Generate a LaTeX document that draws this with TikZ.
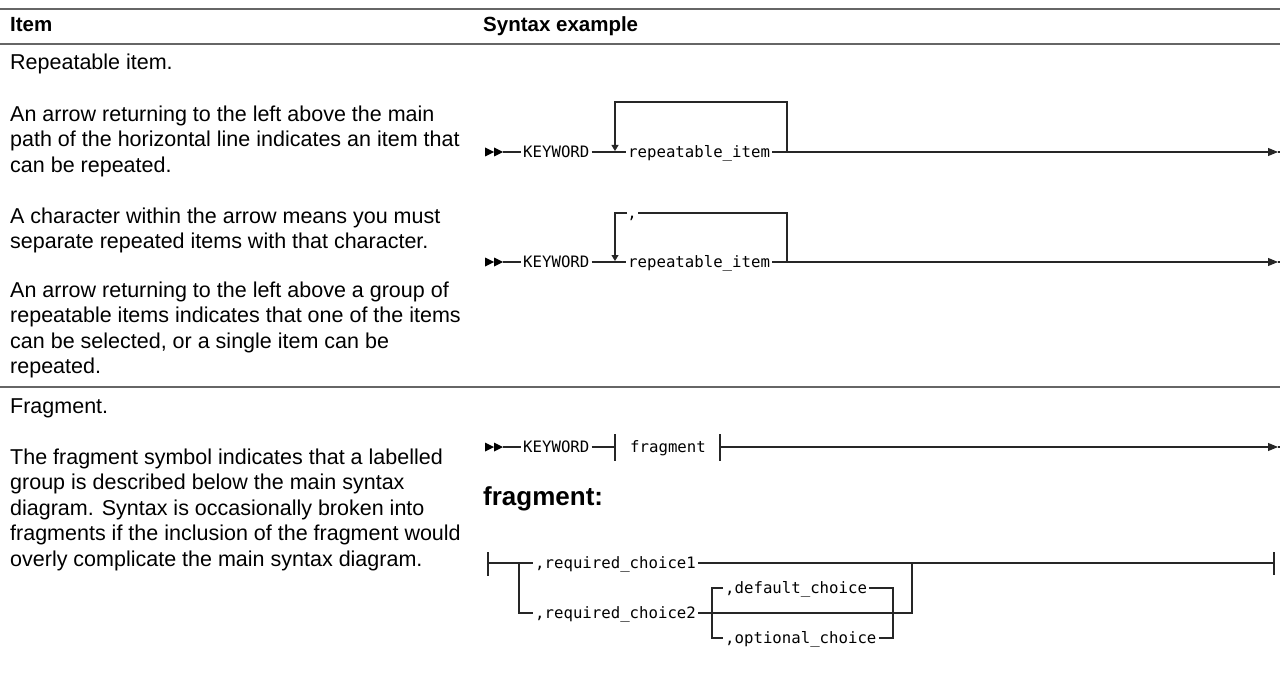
\documentclass[tikz,border=0pt]{standalone}
\usepackage{fontspec}
\setmainfont{Liberation Sans}
\newfontfamily\railfont{DejaVu Sans Mono}
\usetikzlibrary{arrows.meta}

\tikzset{
  txt/.style={anchor=base west,inner sep=0pt,font=\fontsize{21.5}{25.5}\selectfont},
  para/.style={anchor=north west,inner sep=0pt,align=left,font=\fontsize{21.5}{25.5}\selectfont},
  hdr/.style={anchor=base west,inner sep=0pt,font=\fontsize{20.5}{24}\selectfont\bfseries},
  kw/.style={anchor=west,inner ysep=0pt,inner xsep=2pt,text height=11pt,text depth=0pt,
    font=\railfont\fontsize{15.7}{18}\selectfont},
  rail/.style={line width=1.1pt,black!85},
  stub/.style={line width=2.2pt,black!85},
  hrule/.style={line width=1.6pt,black!60},
  endtip/.style={-{Triangle[width=8pt,length=10pt]}},
  looptip/.style={-{Triangle[width=7pt,length=6pt]}},
  begmark/.pic={\fill (0,-4.5) -- (9,0) -- (0,4.5) -- cycle;
                \fill (9,-4.5) -- (18,0) -- (9,4.5) -- cycle;},
}

\begin{document}
\begin{tikzpicture}[x=1pt,y=-1pt]
    \useasboundingbox (0,0) rectangle (1280,674);
    % 表格线
    \draw[hrule] (0,9) -- (1280,9);
    \draw[hrule] (0,44) -- (1280,44);
    \draw[hrule] (0,387) -- (1280,387);
    % 表头
    \node[hdr] (hitem) at (10,32) {Item};
    \node[hdr] (hsyn) at (483,32) {Syntax example};
    % 左列文字
    \node[txt] (rep) at (10,70) {Repeatable item.};
    \node[para] (p1) at (10,105.6) {An arrow returning to the left above the main\\path of the horizontal line indicates an item that\\can be repeated.};
    \node[para] (p2) at (10,207.6) {A character within the arrow means you must\\separate repeated items with that character.};
    \node[para] (p3) at (10,281.6) {An arrow returning to the left above a group of\\repeatable items indicates that one of the items\\can be selected, or a single item can be\\repeated.};
    \node[txt] (frag) at (10,413) {Fragment.};
    \node[para] (p4) at (10,448.6) {The fragment symbol indicates that a labelled\\group is described below the main syntax\\diagram. Syntax is occasionally broken into\\fragments if the inclusion of the fragment would\\overly complicate the main syntax diagram.};

    % 图一：可重复项
    \pic at (485,152) {begmark};
    \coordinate (b1) at (503,152);
    \node[kw] (kw1) at (521,152) {KEYWORD};
    \node[kw] (ri1) at (626,152) {repeatable\_item};
    \coordinate (j1) at (787,152);
    \coordinate (t1) at (615,102);
    \coordinate (a1) at (615,151);
    \coordinate (e1) at (1278,152);
    \draw[rail] (b1) -- (kw1);
    \draw[rail] (kw1) -- (ri1);
    \draw[rail] (ri1) -- (j1);
    \draw[rail,looptip] (j1) |- (t1) -- (a1);
    \draw[stub] (j1) ++(3,0) -- ++(20,0);
    \draw[rail,endtip] (j1) -- (e1);
    \draw[rail] (e1) -- ++(2,0);

    % 图二：带分隔符
    \pic at (485,262) {begmark};
    \coordinate (b2) at (503,262);
    \node[kw] (kw2) at (521,262) {KEYWORD};
    \node[kw] (ri2) at (626,262) {repeatable\_item};
    \node[anchor=base,inner sep=0pt,font=\railfont\fontsize{15.7}{18}\selectfont] (cm2) at (632,218) {,};
    \coordinate (j2) at (787,262);
    \coordinate (g2r) at (638,213);
    \coordinate (g2l) at (627,213);
    \coordinate (t2) at (615,213);
    \coordinate (a2) at (615,261);
    \coordinate (e2) at (1278,262);
    \draw[rail] (b2) -- (kw2);
    \draw[rail] (kw2) -- (ri2);
    \draw[rail] (ri2) -- (j2);
    \draw[rail] (j2) |- (g2r);
    \draw[rail,looptip] (g2l) -- (t2) -- (a2);
    \draw[stub] (j2) ++(3,0) -- ++(14,0);
    \draw[rail,endtip] (j2) -- (e2);
    \draw[rail] (e2) -- ++(2,0);

    % 图三：片段引用
    \pic at (485,447) {begmark};
    \coordinate (b3) at (503,447);
    \node[kw] (kw3) at (521,447) {KEYWORD};
    \coordinate (fl3) at (615,447);
    \node[kw] (fr3) at (628,447) {fragment};
    \coordinate (fr3r) at (720,447);
    \coordinate (e3) at (1278,447);
    \draw[rail] (b3) -- (kw3);
    \draw[rail] (kw3) -- (fl3);
    \draw[rail] (fl3) ++(0,-13) -- ++(0,27);
    \draw[rail] (fr3r) ++(0,-13) -- ++(0,27);
    \draw[stub] (fr3r) -- ++(24,0);
    \draw[rail,endtip] (fr3r) -- (e3);
    \draw[rail] (e3) -- ++(2,0);

    % 片段定义
    \node[anchor=base west,inner sep=0pt,font=\fontsize{26}{30}\selectfont\bfseries] (fhead) at (483,505) {fragment:};
    \coordinate (fb) at (488,563);
    \coordinate (sp) at (519,563);
    \node[kw] (rc1) at (533,563) {,required\_choice1};
    \node[kw] (rc2) at (533,613) {,required\_choice2};
    \node[kw] (dc) at (723,588) {,default\_choice};
    \node[kw] (oc) at (723,638) {,optional\_choice};
    \coordinate (bltop) at (712,588);
    \coordinate (blbot) at (712,638);
    \coordinate (brtop) at (893,588);
    \coordinate (brbot) at (893,638);
    \coordinate (jf) at (912,613);
    \coordinate (jft) at (912,563);
    \coordinate (ef) at (1274,563);
    \draw[rail] (fb) ++(0,-11) -- ++(0,24);
    \draw[stub] (fb) -- ++(12,0);
    \draw[rail] (fb) -- (rc1);
    \draw[rail] (sp) |- (rc2);
    \draw[rail] (dc) -- (bltop) -- (blbot) -- (oc);
    \draw[rail] (dc) -- (brtop) -- (brbot) -- (oc);
    \draw[rail] (rc2) -- (jf) -- (jft);
    \draw[rail] (rc1) -- (ef);
    \draw[stub] (jft) ++(5,0) -- ++(18,0);
    \draw[rail] (ef) ++(0,-11) -- ++(0,23);
\end{tikzpicture}
\end{document}
